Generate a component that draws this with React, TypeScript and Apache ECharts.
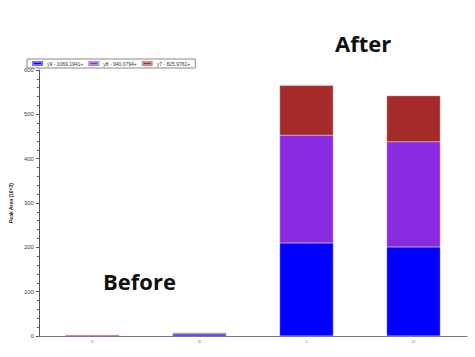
import React, { useEffect, useRef } from "react";
import * as echarts from "echarts";

const categories = ["8", "11", "1", "12"];
const y9Values = [0.6, 4.5, 210, 201];
const y8Values = [0.6, 0.8, 243, 237];
const y7Values = [0.3, 1.3, 112, 104];
const seriesNames = ["y9 - 1069.1941+", "y8 - 940.0794+", "y7 - 825.9761+"];
const yTicks = [0, 100, 200, 300, 400, 500, 600];

export default function App() {
  const ref = useRef<HTMLDivElement>(null);
  useEffect(() => {
    if (!ref.current) return;
    const chart = echarts.init(ref.current, undefined, { renderer: "svg" });
    const colors = ["#0000FF", "#8A2BE2", "#A52A2A"];
    const borders = ["#7070ff", "#b685ee", "#d58a8a"];
    const data = [y9Values, y8Values, y7Values];
    chart.setOption({
      animation: false,
      backgroundColor: "#ffffff",
      grid: { left: 27, right: 8, top: 70, bottom: 21 },
      legend: {
        left: 27,
        top: 59,
        itemWidth: 9,
        itemHeight: 3,
        itemGap: 5,
        padding: [2, 5],
        borderColor: "#888",
        borderWidth: 1,
        textStyle: { fontSize: 5, color: "#333", fontFamily: "Liberation Sans" },
        icon: "rect",
        data: seriesNames,
      },
      xAxis: {
        type: "category",
        data: categories,
        axisLine: { lineStyle: { color: "#777", width: 1 } },
        axisTick: { alignWithLabel: true, length: 3, lineStyle: { color: "#777" } },
        axisLabel: { fontSize: 3, color: "#555", margin: 4 },
      },
      yAxis: {
        type: "value",
        min: 0,
        max: 600,
        interval: 100,
        name: "Peak Area (10^3)",
        nameLocation: "middle",
        nameGap: 25,
        nameTextStyle: { fontSize: 5, fontWeight: "bold", color: "#222", fontFamily: "Liberation Sans" },
        axisLine: { show: true, lineStyle: { color: "#555" } },
        axisTick: { show: true, length: 3, lineStyle: { color: "#555" } },
        minorTick: { show: true, splitNumber: 5, length: 2, lineStyle: { color: "#555" } },
        splitLine: { show: false },
        axisLabel: {
          fontSize: 6,
          color: "#444",
          margin: 5,
          fontFamily: "Liberation Sans",
          formatter: (v: number) => (yTicks.includes(v) ? String(v) : ""),
        },
      },
      series: seriesNames.map((name, i) => ({
        name,
        type: "bar",
        stack: "total",
        barWidth: "50%",
        data: data[i],
        itemStyle: { color: colors[i], borderColor: borders[i], borderWidth: 0.5 },
      })),
      graphic: [
        {
          type: "text",
          left: 335,
          top: 32,
          style: { text: "After", fontSize: 22, fontWeight: "bold", fontFamily: "Open Sans", fill: "#111" },
        },
        {
          type: "text",
          left: 103,
          top: 270,
          style: { text: "Before", fontSize: 22, fontWeight: "bold", fontFamily: "Open Sans", fill: "#111" },
        },
      ],
    });
    return () => chart.dispose();
  }, []);
  return <div ref={ref} style={{ width: 475, height: 357, position: "absolute", left: 0, top: 0 }} />;
}
